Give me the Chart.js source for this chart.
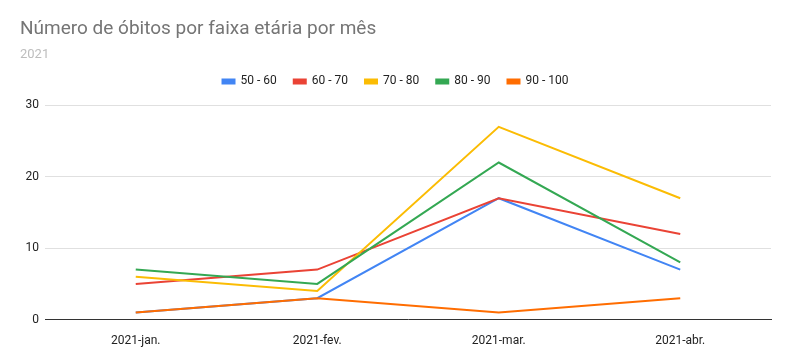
<!DOCTYPE html>
<html>
<head>
<meta charset="utf-8">
<script src="https://cdn.jsdelivr.net/npm/chart.js@4"></script>
<style>
html,body{margin:0;padding:0;background:#fff;}
#wrap{width:801px;height:361px;}
</style>
</head>
<body>
<div id="wrap"><canvas id="c" width="801" height="361"></canvas></div>
<script>
const categories = ["2021-jan.", "2021-fev.", "2021-mar.", "2021-abr."];
const seriesNames = ["50 - 60", "60 - 70", "70 - 80", "80 - 90", "90 - 100"];
const s5060 = [1, 3, 17, 7];
const s6070 = [5, 7, 17, 12];
const s7080 = [6, 4, 27, 17];
const s8090 = [7, 5, 22, 8];
const s90100 = [1, 3, 1, 3];
const yTicks = [0, 10, 20, 30];
const colors = ["#4285f4", "#ea4335", "#fbbc04", "#34a853", "#ff6d01"];
const allSeries = [s5060, s6070, s7080, s8090, s90100];

const datasets = allSeries.map((d, i) => ({
  label: seriesNames[i],
  data: d,
  borderColor: colors[i],
  backgroundColor: colors[i],
  borderWidth: 2,
  pointRadius: 0,
  pointHoverRadius: 0,
  tension: 0,
  fill: false,
  order: allSeries.length - i
}));

const legendSpacer = {
  id: 'legendSpacer',
  afterInit(chart) {
    const lg = chart.legend;
    if (!lg) return;
    const orig = lg.fit;
    lg.fit = function () { orig.call(this); this.height += 8; };
  }
};

new Chart(document.getElementById('c'), {
  type: 'line',
  data: { labels: categories, datasets },
  plugins: [legendSpacer],
  options: {
    responsive: false,
    animation: false,
    layout: { padding: { left: 20, right: 30, top: 18, bottom: 7 } },
    plugins: {
      title: {
        display: true, text: 'Número de óbitos por faixa etária por mês',
        align: 'start', color: '#757575',
        font: { family: 'Roboto', size: 19, weight: 'normal' },
        padding: { top: 0, bottom: 6 }
      },
      subtitle: {
        display: true, text: '2021',
        align: 'start', color: '#bdbdbd',
        font: { family: 'Roboto', size: 13, weight: 'normal' },
        padding: { top: 0, bottom: -4 }
      },
      legend: {
        position: 'top',
        labels: {
          boxWidth: 12, boxHeight: 4, color: '#222',
          font: { family: 'Roboto', size: 12 },
          padding: 17,
          sort: (a, b) => a.datasetIndex - b.datasetIndex
        }
      },
      tooltip: { enabled: false }
    },
    scales: {
      x: {
        offset: true,
        grid: { display: false },
        border: { display: true, color: '#333', width: 1 },
        ticks: { color: '#222', font: { family: 'Roboto', size: 12 }, padding: 6, maxRotation: 0 }
      },
      y: {
        min: 0, max: 30,
        afterFit: (s) => { s.width = 25; },
        afterBuildTicks: (s) => { s.ticks = yTicks.map(v => ({ value: v })); },
        grid: { color: (ctx) => ctx.tick && ctx.tick.value === 0 ? 'rgba(0,0,0,0)' : '#e0e0e0', drawTicks: false },
        border: { display: false },
        ticks: { color: '#222', font: { family: 'Roboto', size: 12 }, padding: 6 }
      }
    }
  }
});
</script>
</body>
</html>
